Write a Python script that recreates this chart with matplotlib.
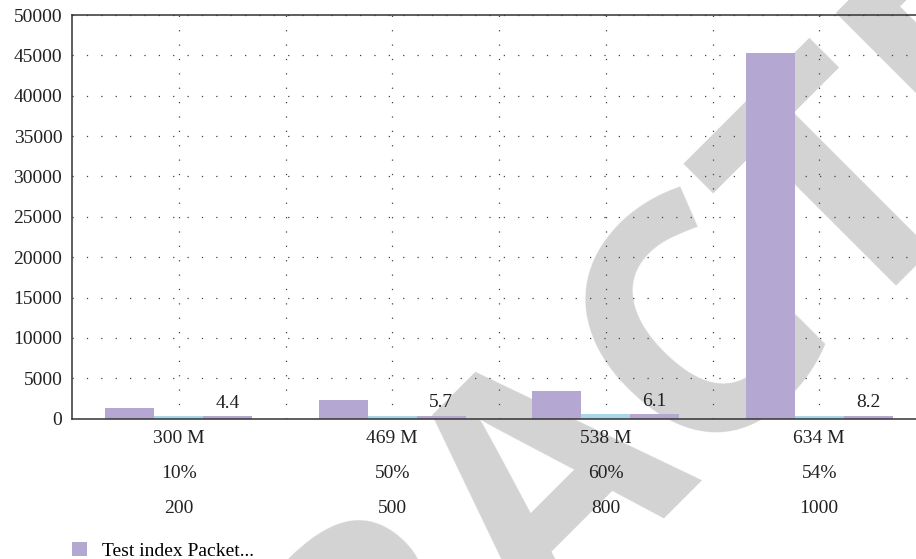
import matplotlib
matplotlib.use('Agg')
import matplotlib.pyplot as plt
from matplotlib.patches import Patch
import numpy as np

# ---- data ----
categories = ['300 M', '469 M', '538 M', '634 M']
row2_labels = ['10%', '50%', '60%', '54%']
row3_labels = ['200', '500', '800', '1000']
series_a = [1290, 2300, 3430, 45300]
series_b = [330, 370, 540, 370]
series_c = [330, 370, 540, 370]
series_c_labels = ['4.4', '5.7', '6.1', '8.2']
yticks = list(range(0, 50001, 5000))
legend_label = 'Test index Packet...'

purple = '#b4a8d3'
blue = '#a7d5ea'

plt.rcParams['font.family'] = ['Liberation Serif', 'DejaVu Serif']
plt.rcParams['font.size'] = 14

fig = plt.figure(figsize=(9.16, 5.59), dpi=100)

# watermark (behind everything)
fig.text(0.608, 0.152, 'RETRACTED', fontsize=238, fontweight='bold',
         family=['Open Sans', 'DejaVu Sans'], color='#d3d3d3', rotation=45,
         rotation_mode='anchor', ha='center', va='center', zorder=-1)

ax = fig.add_axes([72/916, 1-418.7/559, 854/916, 403.7/559])
ax.patch.set_alpha(0)

x = np.arange(len(categories))
w = 0.2295
ax.bar(x - w, series_a, w, color=purple, zorder=2)
ax.bar(x, series_b, w, color=blue, zorder=2)
bars_c = ax.bar(x + w, series_c, w, color=purple, zorder=2)
for b, lab in zip(bars_c, series_c_labels):
    ax.annotate(lab, (b.get_x() + b.get_width()/2, b.get_height()),
                xytext=(0, 6), textcoords='offset points',
                ha='center', va='baseline', color='#222222')

ax.set_xlim(-0.5, len(categories) - 0.5)
ax.set_ylim(0, 50000)
ax.set_yticks(yticks)
ax.set_yticklabels([str(v) for v in yticks])
ax.set_xticks(x)
ax.set_xticklabels([f'{a}\n{b}\n{c}' for a, b, c in zip(categories, row2_labels, row3_labels)])
for lab in ax.get_xticklabels():
    lab.set_linespacing(2.38)
ax.set_xticks(x[:-1] + 0.5, minor=True)
ax.tick_params(axis='both', which='both', length=0, colors='#222222')
ax.tick_params(axis='y', pad=7)
ax.tick_params(axis='x', pad=8)

ax.grid(True, axis='y', which='major', linestyle=(0, (1, 10.5)), color='#444444', linewidth=0.9, zorder=1)
ax.grid(True, axis='x', which='both', linestyle=(0, (1, 10.5)), color='#444444', linewidth=0.9, zorder=1)
ax.set_axisbelow(True)

for s in ['left', 'bottom', 'top']:
    ax.spines[s].set_color('#333333')
    ax.spines[s].set_linewidth(1.1)
ax.spines['right'].set_visible(False)

fig.legend(handles=[Patch(facecolor=purple, edgecolor='none', label=legend_label)],
           loc='lower left', bbox_to_anchor=(71.7/916, -1/559), frameon=False,
           handlelength=0.77, handleheight=0.77, handletextpad=0.77,
           borderpad=0, borderaxespad=0)

fig.savefig('out.png', dpi=100)
